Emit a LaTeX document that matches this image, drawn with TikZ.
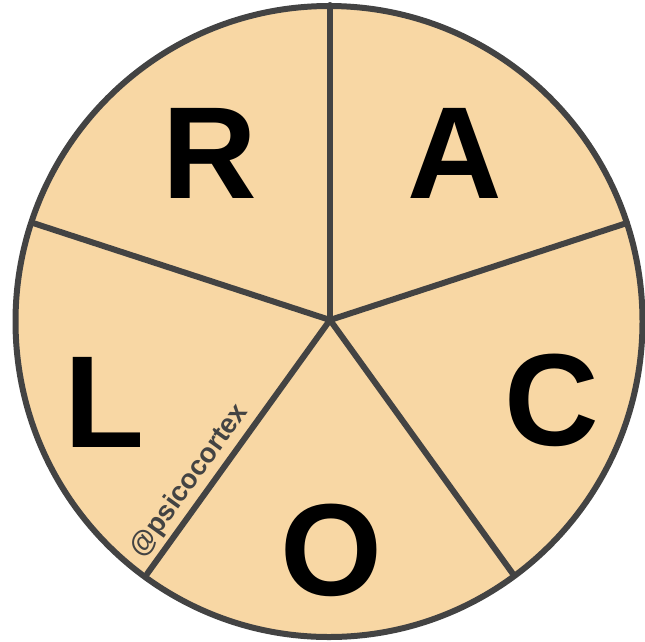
\documentclass[tikz,border=0pt]{standalone}
\usepackage{fontspec}
\setmainfont{Liberation Sans}
\definecolor{wedge}{HTML}{F8D7A4}
\definecolor{rim}{HTML}{434343}
\begin{document}
\begin{tikzpicture}[x=1pt,y=-1pt,
  letter/.style={inner sep=0pt,font=\fontsize{131}{131}\selectfont\bfseries,text=black},
  spoke/.style={draw=rim,line width=6pt,line cap=round}]
\useasboundingbox (0,0) rectangle (645,641);
\coordinate (c) at (330,320);
\coordinate (pT) at (330,5);
\coordinate (pR) at (627,223);
\coordinate (pBR) at (513,574);
\coordinate (pBL) at (147,574);
\coordinate (pL) at (33,223);
\fill[wedge] (329,321.5) ellipse [x radius=313.5, y radius=315.5];
\draw[spoke] (c) -- (pT);
\draw[spoke] (c) -- (pR);
\draw[spoke] (c) -- (pBR);
\draw[spoke] (c) -- (pBL);
\draw[spoke] (c) -- (pL);
\draw[rim,line width=6pt] (329,321.5) ellipse [x radius=313.5, y radius=315.5];
\node[letter] (R) at (210,153) {R};
\node[letter] (A) at (455,153) {A};
\node[letter] (C) at (552,400) {C};
\node[letter] (O) at (331,550) {O};
\node[letter] (L) at (105,402) {L};
\node[inner sep=0pt,rotate=54.3,text=rim,font=\fontsize{27.5}{27.5}\selectfont\bfseries] (w) at (190,481) {@psicocortex};
\end{tikzpicture}
\end{document}
